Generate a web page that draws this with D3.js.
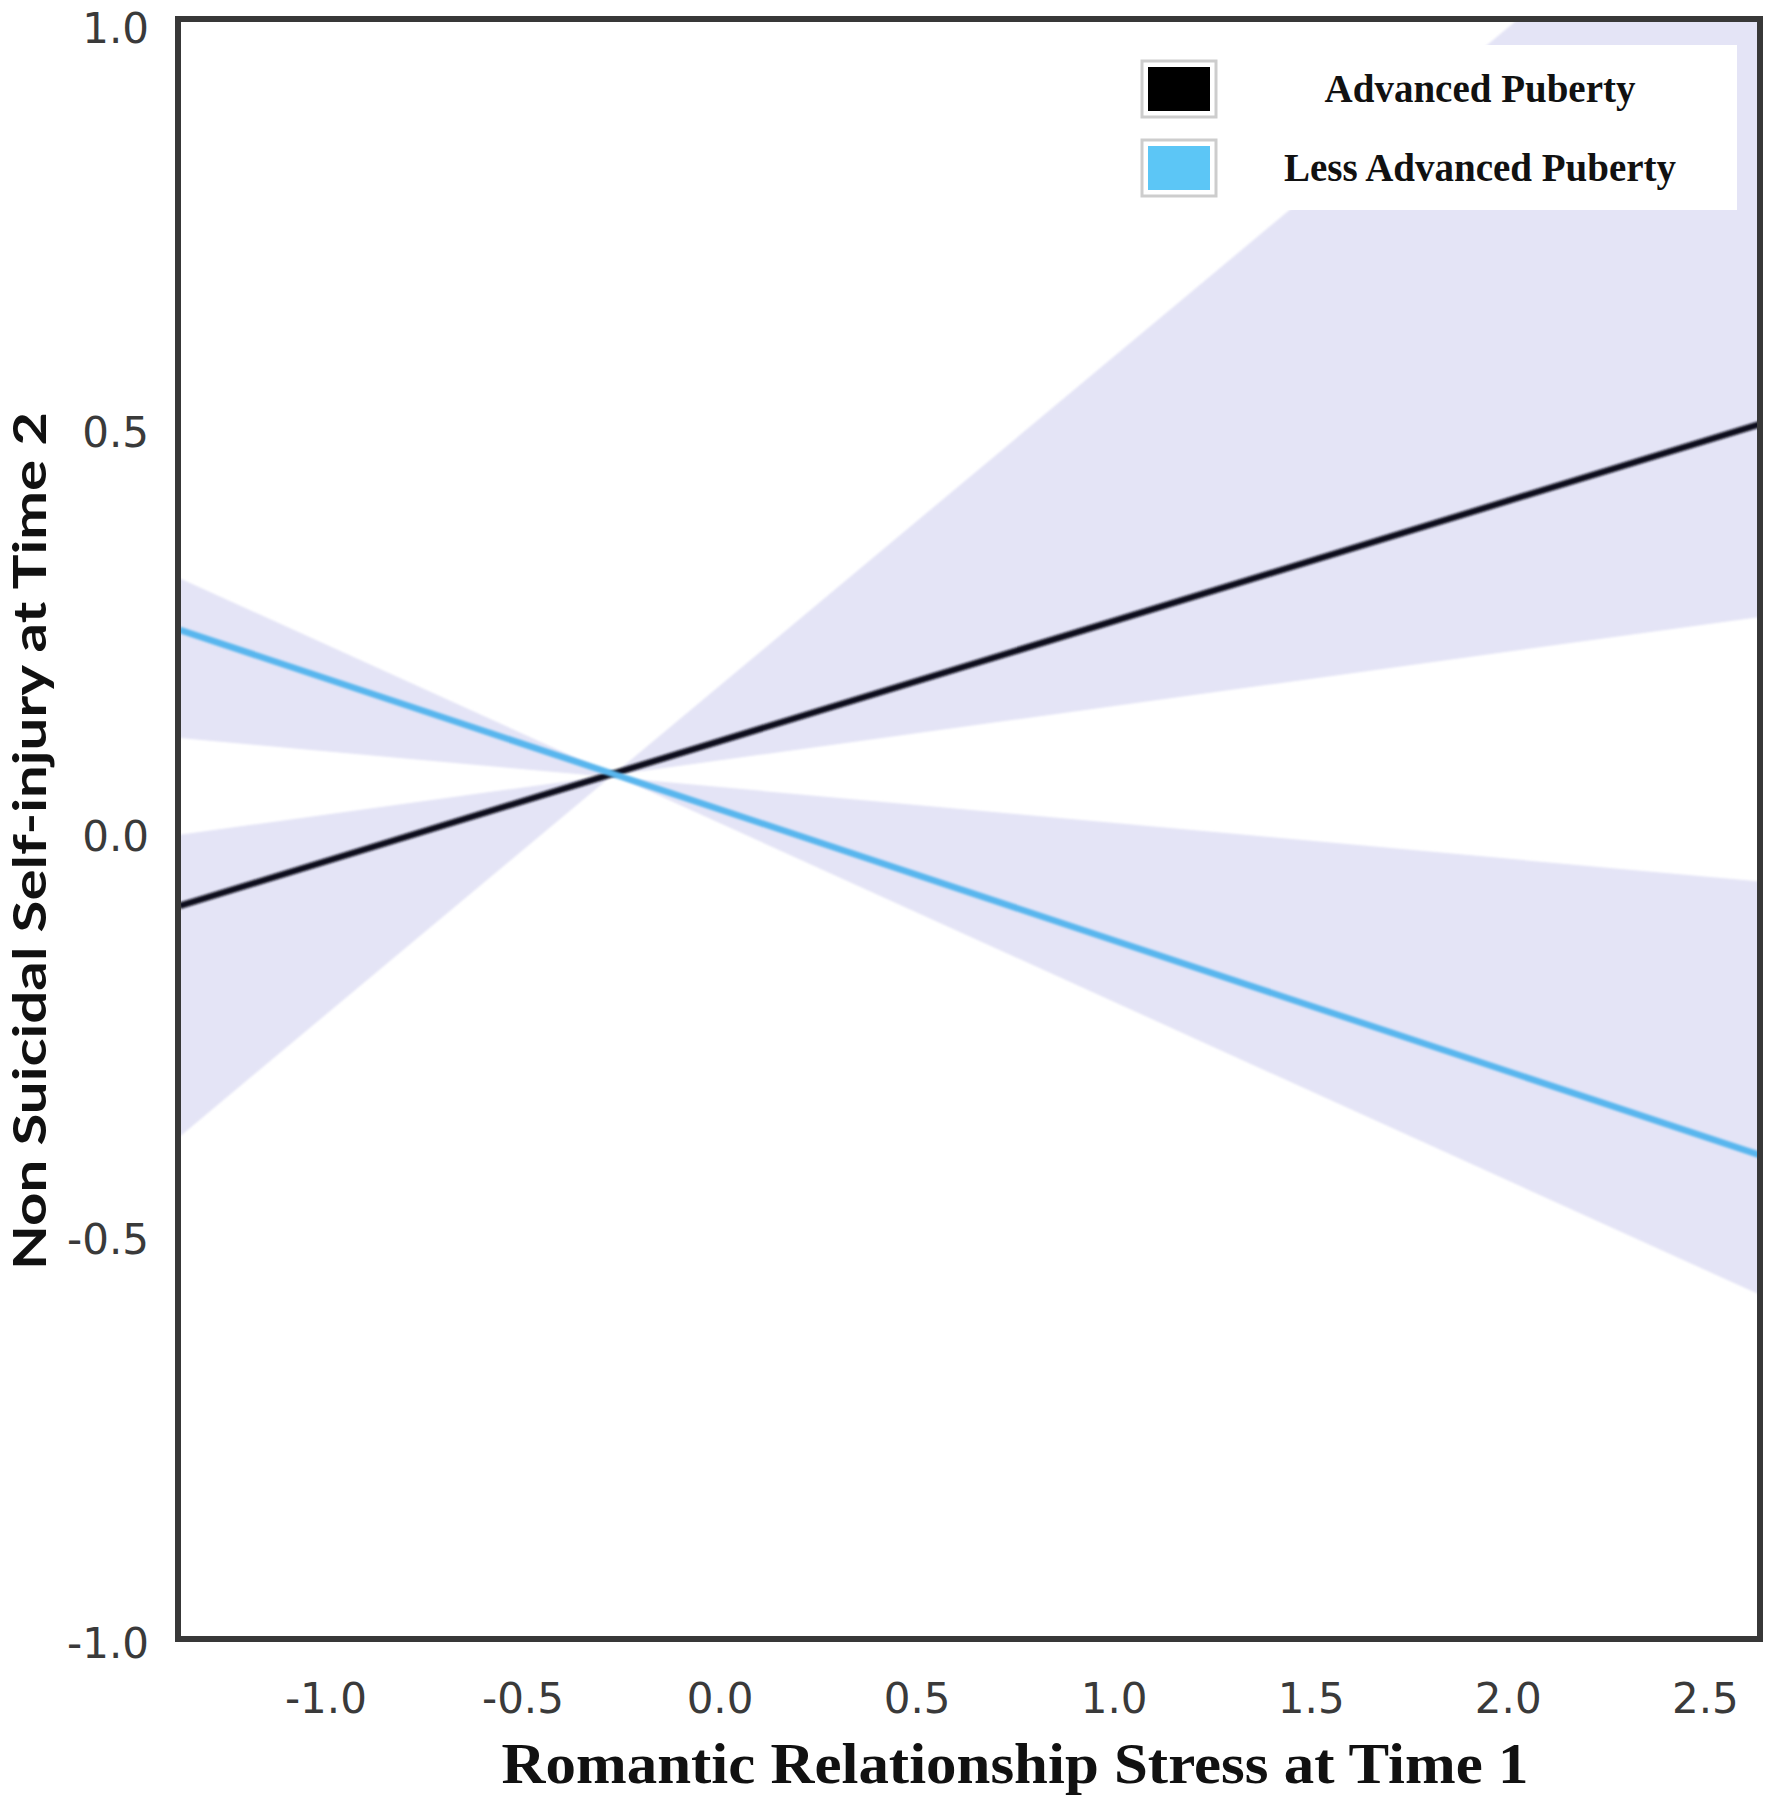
<!DOCTYPE html>
<html>
<head>
<meta charset="utf-8">
<script src="https://cdn.jsdelivr.net/npm/d3@7"></script>
<style>
  html, body { margin: 0; padding: 0; background: #ffffff; }
  svg { display: block; }
</style>
</head>
<body>
<div id="chart"></div>
<script>
// ---- data ----
const xTicks = [-1.0, -0.5, 0.0, 0.5, 1.0, 1.5, 2.0, 2.5];
const yTicks = [-1.0, -0.5, 0.0, 0.5, 1.0];
const xEnds = [-1.37, 2.64];                 // x where lines / bands are evaluated
const advancedLine = [-0.089, 0.508];        // Advanced Puberty fitted values
const lessLine = [0.253, -0.398];            // Less Advanced Puberty fitted values
const advancedBandEdgeA = [-0.001, 0.269];
const advancedBandEdgeB = [-0.375, 1.26];
const lessBandEdgeA = [0.317, -0.571];
const lessBandEdgeB = [0.119, -0.059];
const seriesNames = ["Advanced Puberty", "Less Advanced Puberty"];
const xTitle = "Romantic Relationship Stress at Time 1";
const yTitle = "Non Suicidal Self-injury at Time 2";

// ---- layout ----
const W = 1777, H = 1800;
const plot = { left: 178, right: 1760, top: 19, bottom: 1639 };
const colors = { advanced: "#10101e", less: "#58b6ee", band: "#e4e4f6", frame: "#383838", tick: "#3a3a3a" };

const x = d3.scaleLinear().domain([-1.374, 2.640]).range([plot.left, plot.right]);
const y = d3.scaleLinear().domain([-0.9975, 1.0099]).range([plot.bottom, plot.top]);

const fmt = d3.formatLocale({ decimal: ".", thousands: ",", grouping: [3], currency: ["", ""], minus: "-" }).format(".1f");

const svg = d3.select("#chart").append("svg").attr("width", W).attr("height", H);

const defs = svg.append("defs");
defs.append("clipPath").attr("id", "plotclip")
  .append("rect").attr("x", plot.left).attr("y", plot.top)
  .attr("width", plot.right - plot.left).attr("height", plot.bottom - plot.top);
defs.append("filter").attr("id", "soft").attr("x", "-5%").attr("y", "-5%").attr("width", "110%").attr("height", "110%")
  .append("feGaussianBlur").attr("stdDeviation", 0.9);

const g = svg.append("g").attr("clip-path", "url(#plotclip)");

// bowtie bands between two crossing edge lines
function bowtie(a, b) {
  return [[xEnds[0], a[0]], [xEnds[1], a[1]], [xEnds[1], b[1]], [xEnds[0], b[0]]];
}
const polyLine = d3.line().x(d => x(d[0])).y(d => y(d[1]));
[bowtie(advancedBandEdgeA, advancedBandEdgeB), bowtie(lessBandEdgeA, lessBandEdgeB)].forEach(p => {
  g.append("path").attr("d", polyLine(p) + "Z")
    .attr("fill", colors.band).attr("fill-rule", "nonzero").attr("filter", "url(#soft)");
});

// lines
[[advancedLine, colors.advanced], [lessLine, colors.less]].forEach(([vals, c]) => {
  const pts = xEnds.map((xv, i) => [xv, vals[i]]);
  g.append("path").attr("d", polyLine(pts))
    .attr("fill", "none").attr("stroke", c).attr("stroke-width", 6.5)
    .attr("filter", "url(#soft)");
});

// legend
const lg = svg.append("g");
lg.append("rect").attr("x", 1120).attr("y", 45).attr("width", 617).attr("height", 165).attr("fill", "#ffffff");
const legendItems = [
  { name: seriesNames[0], color: "#000000", cy: 89 },
  { name: seriesNames[1], color: "#5cc6f6", cy: 168 }
];
legendItems.forEach(it => {
  lg.append("rect").attr("x", 1142).attr("y", it.cy - 28).attr("width", 74).attr("height", 56)
    .attr("fill", "#ffffff").attr("stroke", "#cdcdcd").attr("stroke-width", 3);
  lg.append("rect").attr("x", 1148).attr("y", it.cy - 22).attr("width", 62).attr("height", 44)
    .attr("fill", it.color);
  lg.append("text").attr("x", 1480).attr("y", it.cy + 13)
    .attr("text-anchor", "middle")
    .attr("font-family", "'Liberation Serif', 'Times New Roman', serif")
    .attr("font-weight", "bold").attr("font-size", 39).attr("fill", "#111")
    .text(it.name);
});

// axes (labels only)
const xAxis = svg.append("g").attr("transform", `translate(0,${plot.bottom})`)
  .call(d3.axisBottom(x).tickValues(xTicks).tickFormat(fmt).tickSize(0).tickPadding(0));
xAxis.select(".domain").remove();
xAxis.selectAll("text")
  .attr("y", 74).attr("dy", 0)
  .attr("font-family", "'DejaVu Sans', Verdana, sans-serif").attr("font-size", 42)
  .attr("fill", colors.tick);

const yAxis = svg.append("g").attr("transform", `translate(${plot.left},0)`)
  .call(d3.axisLeft(y).tickValues(yTicks).tickFormat(fmt).tickSize(0).tickPadding(0));
yAxis.select(".domain").remove();
yAxis.selectAll("text")
  .attr("x", -29).attr("dy", 0)
  .attr("transform", "translate(0,16)")
  .attr("font-family", "'DejaVu Sans', Verdana, sans-serif").attr("font-size", 42)
  .attr("fill", colors.tick);

// frame
svg.append("rect").attr("x", plot.left).attr("y", plot.top)
  .attr("width", plot.right - plot.left).attr("height", plot.bottom - plot.top)
  .attr("fill", "none").attr("stroke", colors.frame).attr("stroke-width", 6);

// axis titles
svg.append("text").attr("x", 1015).attr("y", 1783).attr("text-anchor", "middle")
  .attr("font-family", "'Liberation Serif', 'Times New Roman', serif")
  .attr("font-weight", "bold").attr("font-size", 58).attr("fill", "#111")
  .attr("textLength", 1027).attr("lengthAdjust", "spacingAndGlyphs")
  .text(xTitle);

svg.append("text").attr("transform", "translate(46,841) rotate(-90)").attr("text-anchor", "middle")
  .attr("font-family", "Lato, 'Open Sans', sans-serif")
  .attr("font-weight", "bold").attr("font-size", 46).attr("fill", "#111")
  .attr("textLength", 858).attr("lengthAdjust", "spacingAndGlyphs")
  .text(yTitle);
</script>
</body>
</html>
